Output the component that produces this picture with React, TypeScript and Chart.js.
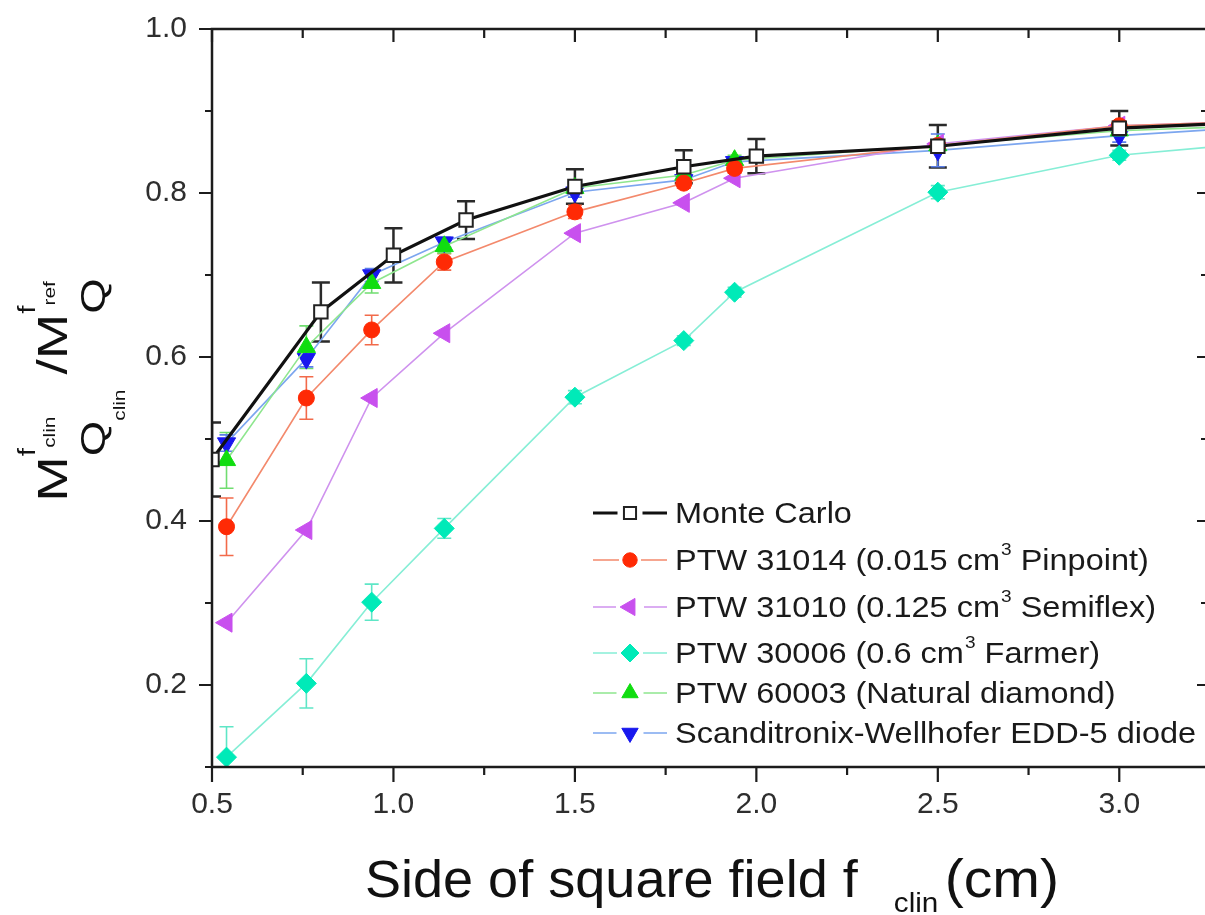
import React, { useEffect, useRef } from 'react';
import { Chart, registerables } from 'chart.js';
import { drawPoint } from 'chart.js/helpers';

Chart.register(...registerables);

const FONT = '"Liberation Sans", Arial, Helvetica, sans-serif';

// ---- data ----
const xMonteCarlo = [0.5, 0.8, 1.0, 1.2, 1.5, 1.8, 2.0, 2.5, 3.0, 3.5];
const yMonteCarlo = [0.475, 0.655, 0.724, 0.767, 0.808, 0.832, 0.845, 0.857, 0.879, 0.889];
const eMonteCarlo = [0.045, 0.036, 0.033, 0.023, 0.021, 0.02, 0.021, 0.026, 0.021, 0];

const xDetectors = [0.54, 0.76, 0.94, 1.14, 1.5, 1.8, 1.94, 2.5, 3.0, 3.5];
const yPTW31014 = [0.393, 0.55, 0.633, 0.716, 0.777, 0.812, 0.83, 0.858, 0.882, 0.889];
const ePTW31014 = [0.035, 0.026, 0.018, 0.01, 0.008, 0.006, 0.006, 0.006, 0.006, 0];
const yPTW31010 = [0.276, 0.389, 0.55, 0.629, 0.751, 0.788, 0.818, 0.86, 0.882, 0.889];
const yPTW30006 = [0.112, 0.202, 0.301, 0.391, 0.551, 0.62, 0.679, 0.801, 0.846, 0.866];
const ePTW30006 = [0.037, 0.03, 0.022, 0.012, 0.008, 0.006, 0.006, 0.008, 0.006, 0];
const yPTW60003 = [0.474, 0.612, 0.69, 0.735, 0.806, 0.822, 0.84, 0.858, 0.876, 0.884];
const ePTW60003 = [0.034, 0.026, 0.012, 0.008, 0.006, 0.006, 0.006, 0.006, 0.006, 0];
const yEDD5 = [0.495, 0.598, 0.7, 0.74, 0.801, 0.816, 0.838, 0.852, 0.87, 0.884];
const eEDD5 = [0.01, 0.01, 0.008, 0.006, 0.006, 0.006, 0.006, 0.02, 0.008, 0];

const seriesLabels = [
  'Monte Carlo',
  'PTW 31014 (0.015 cm³ Pinpoint)',
  'PTW 31010 (0.125 cm³ Semiflex)',
  'PTW 30006 (0.6 cm³ Farmer)',
  'PTW 60003 (Natural diamond)',
  'Scanditronix-Wellhofer EDD-5 diode',
];

const xMin = 0.5;
const xMax = 3.25;
const yMin = 0.1;
const yMax = 1.0;

const pts = (xs: number[], ys: number[]) => xs.map((x, i) => ({ x, y: ys[i] }));

// ---- helpers ----
type Seg = { t: string; size: number; dy: number; dx?: number };

function segW(ctx: CanvasRenderingContext2D, s: Seg) {
  ctx.font = `${s.size}px ${FONT}`;
  return ctx.measureText(s.t).width;
}

function runW(ctx: CanvasRenderingContext2D, run: Seg[]) {
  return run.reduce((a, s) => a + segW(ctx, s) + (s.dx || 0), 0);
}

function drawColumns(ctx: CanvasRenderingContext2D, cols: Seg[][][], cx: number) {
  const widths = cols.map((c) => Math.max(...c.map((r) => runW(ctx, r))));
  const total = widths.reduce((a, b) => a + b, 0);
  let x = cx - total / 2;
  cols.forEach((c, i) => {
    c.forEach((run) => {
      let rx = x;
      run.forEach((s) => {
        rx += s.dx || 0;
        ctx.font = `${s.size}px ${FONT}`;
        ctx.fillText(s.t, rx, s.dy);
        rx += ctx.measureText(s.t).width;
      });
    });
    x += widths[i];
  });
}

const errorBarPlugin = {
  id: 'errorBars',
  beforeDatasetsDraw(chart: any) {
    const { ctx, chartArea } = chart;
    ctx.save();
    ctx.beginPath();
    ctx.rect(chartArea.left, chartArea.top, chartArea.right - chartArea.left, chartArea.bottom - chartArea.top);
    ctx.clip();
    const ys = chart.scales.y;
    chart.data.datasets.forEach((ds: any, i: number) => {
      if (!ds.errors) return;
      const meta = chart.getDatasetMeta(i);
      ctx.strokeStyle = ds.errorColor;
      ctx.lineWidth = ds.errorWidth;
      ds.data.forEach((p: any, j: number) => {
        const e = ds.errors[j];
        if (!e) return;
        const px = meta.data[j].x;
        const t = ys.getPixelForValue(p.y + e);
        const b = ys.getPixelForValue(p.y - e);
        const cw = ds.capHalf;
        ctx.beginPath();
        ctx.moveTo(px, t);
        ctx.lineTo(px, b);
        ctx.moveTo(px - cw, t);
        ctx.lineTo(px + cw, t);
        ctx.moveTo(px - cw, b);
        ctx.lineTo(px + cw, b);
        ctx.stroke();
      });
    });
    ctx.restore();
  },
};

const framePlugin = {
  id: 'frame',
  afterDraw(chart: any) {
    const { ctx, chartArea } = chart;
    const { left, right, top, bottom } = chartArea;
    const xs = chart.scales.x;
    const ys = chart.scales.y;
    ctx.save();
    ctx.strokeStyle = '#1c1c1c';
    ctx.lineWidth = 2.5;
    ctx.strokeRect(left, top, right - left, bottom - top);
    ctx.lineWidth = 2.2;
    ctx.beginPath();
    xs.ticks.forEach((t: any) => {
      const px = xs.getPixelForValue(t.value);
      const major = Math.abs(t.value * 2 - Math.round(t.value * 2)) < 1e-6;
      ctx.moveTo(px, bottom);
      ctx.lineTo(px, bottom + (major ? 15 : 8));
      ctx.moveTo(px, top);
      ctx.lineTo(px, top + (major ? 13 : 9));
    });
    ys.ticks.forEach((t: any) => {
      const py = ys.getPixelForValue(t.value);
      const major = Math.round(t.value * 10) % 2 === 0;
      ctx.moveTo(left, py);
      ctx.lineTo(left - (major ? 13 : 7), py);
      ctx.moveTo(right, py);
      ctx.lineTo(right - (major ? 13 : 9), py);
    });
    ctx.stroke();
    ctx.restore();
  },
};

const legendRows = [513, 560, 607, 653, 693, 733];
const legendLine = { x0: 593, x1: 667, marker: 630, text: 675, stretch: 1.12, size: 29 };

const legendPlugin = {
  id: 'customLegend',
  afterDraw(chart: any) {
    const { ctx } = chart;
    ctx.save();
    chart.data.datasets.forEach((ds: any, i: number) => {
      const y = legendRows[i];
      const gap = ds.pointRadius + 3;
      ctx.strokeStyle = ds.borderColor;
      ctx.lineWidth = ds.borderWidth;
      ctx.beginPath();
      ctx.moveTo(legendLine.x0, y);
      ctx.lineTo(legendLine.marker - gap, y);
      ctx.moveTo(legendLine.marker + gap, y);
      ctx.lineTo(legendLine.x1, y);
      ctx.stroke();
      ctx.fillStyle = ds.pointBackgroundColor;
      ctx.strokeStyle = ds.pointBorderColor;
      ctx.lineWidth = ds.pointBorderWidth;
      drawPoint(ctx, { pointStyle: ds.pointStyle, rotation: ds.pointRotation || 0, radius: ds.pointRadius * 0.9, borderWidth: ds.pointBorderWidth }, legendLine.marker, y);
      ctx.fillStyle = '#1a1a1a';
      ctx.textBaseline = 'alphabetic';
      ctx.textAlign = 'left';
      ctx.save();
      ctx.translate(legendLine.text, y + 10);
      ctx.scale(legendLine.stretch, 1);
      const parts = String(ds.label).split('³');
      let x = 0;
      parts.forEach((p: string, k: number) => {
        ctx.font = `${legendLine.size}px ${FONT}`;
        ctx.fillText(p, x, 0);
        x += ctx.measureText(p).width;
        if (k < parts.length - 1) {
          ctx.font = `17px ${FONT}`;
          ctx.fillText('3', x + 1, -15);
          x += ctx.measureText('3').width + 1;
        }
      });
      ctx.restore();
    });
    ctx.restore();
  },
};

const titlePlugin = {
  id: 'axisTitles',
  afterDraw(chart: any) {
    const { ctx } = chart;
    ctx.save();
    ctx.fillStyle = '#111';
    ctx.textAlign = 'left';
    ctx.textBaseline = 'alphabetic';
    // x title
    ctx.save();
    ctx.translate(712, 897);
    ctx.scale(1.06, 1);
    drawColumns(ctx, [
      [[{ t: 'Side of square field f', size: 51, dy: 0 }]],
      [[{ t: 'clin', size: 28, dy: 15, dx: 34 }]],
      [[{ t: '(cm)', size: 54, dy: 0, dx: 6 }]],
    ], 0);
    ctx.restore();
    // y title
    ctx.save();
    ctx.translate(67, 390);
    ctx.rotate(-Math.PI / 2);
    ctx.scale(1.3, 1);
    drawColumns(ctx, [
      [[{ t: 'M', size: 42, dy: 0 }]],
      [
        [{ t: 'f', size: 23, dy: -32 }, { t: 'clin', size: 16, dy: -12 }],
        [{ t: 'Q', size: 35, dy: 38 }, { t: 'clin', size: 16, dy: 58 }],
      ],
      [[{ t: ' /', size: 42, dy: 0 }]],
      [[{ t: 'M', size: 42, dy: 0 }]],
      [
        [{ t: 'f', size: 23, dy: -32 }, { t: 'ref', size: 16, dy: -12 }],
        [{ t: 'Q', size: 35, dy: 38 }],
      ],
    ], 0);
    ctx.restore();
    ctx.restore();
  },
};

const zeroPad = (s: any) => {
  s.paddingTop = 0;
  s.paddingBottom = 0;
  s.paddingLeft = 0;
  s.paddingRight = 0;
};

export default function App() {
  const ref = useRef<HTMLCanvasElement>(null);
  useEffect(() => {
    document.body.style.margin = '0';
    const canvas = ref.current;
    if (!canvas) return;
    const line = (label: string, xs: number[], ys: number[], o: any) => ({
      label,
      data: pts(xs, ys),
      showLine: true,
      tension: 0,
      ...o,
    });
    const chart = new Chart(canvas, {
      type: 'line',
      data: {
        datasets: [
          line(seriesLabels[0], xMonteCarlo, yMonteCarlo, {
            borderColor: '#111', borderWidth: 3.2,
            pointStyle: 'rect', pointRadius: 9.5, pointBackgroundColor: '#ffffff', pointBorderColor: '#222', pointBorderWidth: 2,
            errors: eMonteCarlo, errorColor: '#2a2a2a', errorWidth: 2.5, capHalf: 9,
          }),
          line(seriesLabels[1], xDetectors, yPTW31014, {
            borderColor: '#f3896c', borderWidth: 1.6,
            pointStyle: 'circle', pointRadius: 8, pointBackgroundColor: '#ff2a05', pointBorderColor: '#ff2a05', pointBorderWidth: 1,
            errors: ePTW31014, errorColor: '#f26a4a', errorWidth: 1.6, capHalf: 7,
          }),
          line(seriesLabels[2], xDetectors, yPTW31010, {
            borderColor: '#cf92ee', borderWidth: 1.6,
            pointStyle: 'triangle', pointRotation: -90, pointRadius: 11, pointBackgroundColor: '#c850ee', pointBorderColor: '#c850ee', pointBorderWidth: 1,
          }),
          line(seriesLabels[3], xDetectors, yPTW30006, {
            borderColor: '#86eed6', borderWidth: 1.6,
            pointStyle: 'rectRot', pointRadius: 10, pointBackgroundColor: '#00eab8', pointBorderColor: '#00eab8', pointBorderWidth: 1,
            errors: ePTW30006, errorColor: '#5ee6c6', errorWidth: 1.6, capHalf: 7,
          }),
          line(seriesLabels[4], xDetectors, yPTW60003, {
            borderColor: '#8ee68e', borderWidth: 1.6,
            pointStyle: 'triangle', pointRadius: 10.5, pointBackgroundColor: '#10dd10', pointBorderColor: '#10dd10', pointBorderWidth: 1,
            errors: ePTW60003, errorColor: '#70dd70', errorWidth: 1.6, capHalf: 7,
          }),
          line(seriesLabels[5], xDetectors, yEDD5, {
            borderColor: '#7ca6ef', borderWidth: 1.6,
            pointStyle: 'triangle', pointRotation: 180, pointRadius: 10.5, pointBackgroundColor: '#1818ee', pointBorderColor: '#1818ee', pointBorderWidth: 1,
            errors: eEDD5, errorColor: '#5a7ee8', errorWidth: 1.6, capHalf: 7,
          }),
        ],
      },
      options: {
        responsive: true,
        maintainAspectRatio: false,
        animation: false,
        devicePixelRatio: 1,
        layout: { padding: { left: 0, right: 4.5, top: 29, bottom: 0 } },
        plugins: { legend: { display: false }, tooltip: { enabled: false }, title: { display: false } },
        scales: {
          x: {
            type: 'linear',
            min: xMin,
            max: xMax,
            afterFit: (s: any) => { s.height = 148; zeroPad(s); },
            grid: { display: false, drawTicks: false },
            border: { display: false },
            ticks: {
              stepSize: 0.25,
              autoSkip: false,
              maxRotation: 0,
              padding: 20,
              color: '#2e2e2e',
              font: { family: FONT, size: 30 },
              callback: (v: any) => (Math.abs(v * 2 - Math.round(v * 2)) < 1e-6 ? Number(v).toFixed(1) : ''),
            },
          },
          y: {
            type: 'linear',
            min: yMin,
            max: yMax,
            afterFit: (s: any) => { s.width = 212; zeroPad(s); },
            grid: { display: false, drawTicks: false },
            border: { display: false },
            ticks: {
              stepSize: 0.1,
              autoSkip: false,
              padding: 25,
              color: '#2e2e2e',
              font: { family: FONT, size: 30 },
              callback: (v: any) => {
                const k = Math.round(v * 10);
                return k % 2 === 0 && k >= 2 ? (k / 10).toFixed(1) : '';
              },
            },
          },
        },
      },
      plugins: [errorBarPlugin, framePlugin, legendPlugin, titlePlugin],
    } as any);
    return () => chart.destroy();
  }, []);
  return (
    <div style={{ position: 'fixed', left: 0, top: 0, width: 1205, height: 915, overflow: 'hidden', background: '#fff' }}>
      <div style={{ position: 'absolute', left: 0, top: 0, width: 1222, height: 915 }}>
        <canvas ref={ref} />
      </div>
    </div>
  );
}
